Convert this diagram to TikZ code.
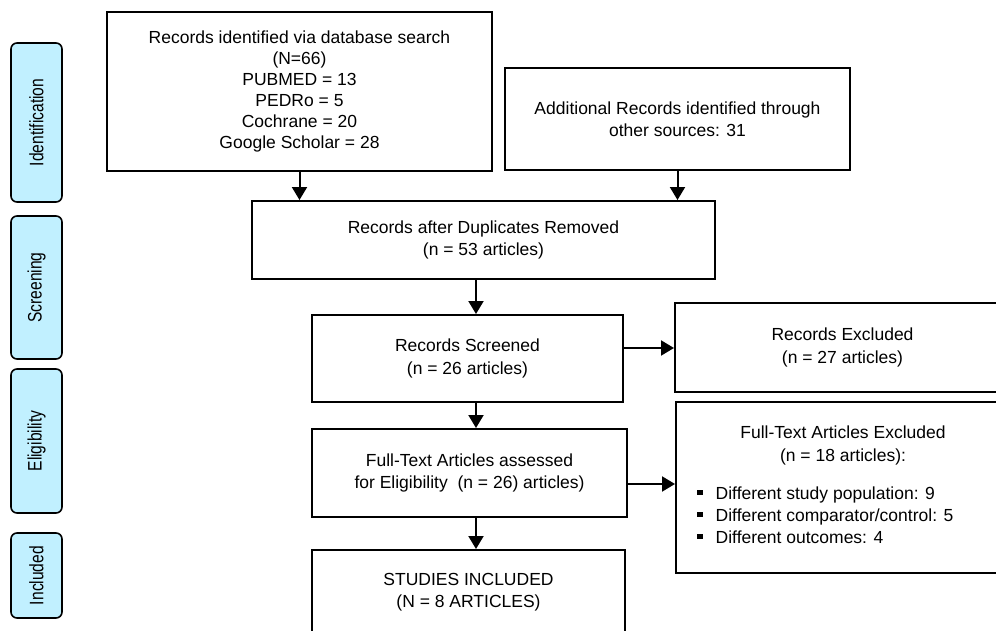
\documentclass[tikz,border=0pt]{standalone}
\usepackage{fontspec}
\setmainfont{Liberation Sans}
\newfontfamily\narrowfont[FakeStretch=0.8]{Liberation Sans}
\usetikzlibrary{arrows.meta}
\definecolor{phase}{RGB}{193,240,255}
\newcommand{\sqbul}{\rule[0.22em]{5.5pt}{5.5pt}}
\begin{document}
\begin{tikzpicture}[x=1pt,y=-1pt,
  box/.style={draw, line width=2pt, rectangle, inner sep=0pt, align=center,
    font=\fontsize{17.5}{22.5}\selectfont},
  txt/.style={inner sep=0pt, font=\fontsize{17.5}{22.5}\selectfont},
  phasebox/.style={draw, line width=1.6pt, fill=phase, rounded corners=6pt, inner sep=0pt,
    font=\narrowfont\fontsize{19.5}{20}\selectfont},
  arr/.style={line width=2pt, -{Triangle[width=15pt,length=13pt]}}]
\useasboundingbox (0,0) rectangle (996,630);

% phase labels
\node[phasebox, minimum width=51pt, minimum height=159pt] (pid) at (36.5,122.5) {\rotatebox{90}{Identification}};
\node[phasebox, minimum width=51pt, minimum height=143pt] (psc) at (36.5,287.5) {\rotatebox{90}{Screening}};
\node[phasebox, minimum width=51pt, minimum height=144pt] (pel) at (36.5,441) {\rotatebox{90}{Eligibility}};
\node[phasebox, minimum width=51pt, minimum height=85pt] (pin) at (36.5,575.5) {\rotatebox{90}{Included}};

% main boxes
\node[box, minimum width=385pt, minimum height=159pt, font=\fontsize{17.5}{21}\selectfont] (box1) at (299.5,91.5)
  {Records identified via database search\\(N=66)\\PUBMED = 13\\PEDRo = 5\\Cochrane = 20\\Google Scholar = 28};
\node[box, minimum width=345pt, minimum height=102pt] (box2) at (677.5,119)
  {Additional Records identified through\\other sources: 31};
\node[box, minimum width=463pt, minimum height=78pt] (box3) at (483.5,240)
  {Records after Duplicates Removed\\(n = 53 articles)};
\node[box, minimum width=311pt, minimum height=87pt] (box4) at (467.5,358.5)
  {Records Screened\\(n = 26 articles)};
\node[box, minimum width=335pt, minimum height=89pt] (box5) at (842.5,347.5)
  {Records Excluded\\(n = 27 articles)};
\node[box, minimum width=315pt, minimum height=88pt] (box6) at (469.5,473)
  {Full-Text Articles assessed\\for Eligibility\ \ (n = 26) articles)};
\node[box, minimum width=313pt, minimum height=84pt] (box7) at (468.5,592)
  {STUDIES INCLUDED\\(N = 8 ARTICLES)};
\node[box, minimum width=334pt, minimum height=171pt] (box8) at (843,487.5) {};
\node[txt, align=center] (t8a) at (843,445.5) {Full-Text Articles Excluded\\(n = 18 articles):};
\node[txt, align=left, anchor=west, font=\fontsize{17.5}{22}\selectfont] (t8b) at (697,515)
  {\sqbul\hspace{13pt}Different study population: 9\\
   \sqbul\hspace{13pt}Different comparator/control: 5\\
   \sqbul\hspace{13pt}Different outcomes: 4};

% connectors
\coordinate (cx) at (476,0);
\coordinate (ya) at (0,348);
\coordinate (yb) at (0,484);
\draw[arr] (box1.south) -- (box1.south |- box3.north);
\draw[arr] (box2.south) -- (box2.south |- box3.north);
\draw[arr] (box3.south -| cx) -- (box4.north -| cx);
\draw[arr] (box4.south -| cx) -- (box6.north -| cx);
\draw[arr] (box6.south -| cx) -- (box7.north -| cx);
\draw[arr] (box4.east |- ya) -- (box5.west |- ya);
\draw[arr] (box6.east |- yb) -- (box8.west |- yb);
\end{tikzpicture}
\end{document}
